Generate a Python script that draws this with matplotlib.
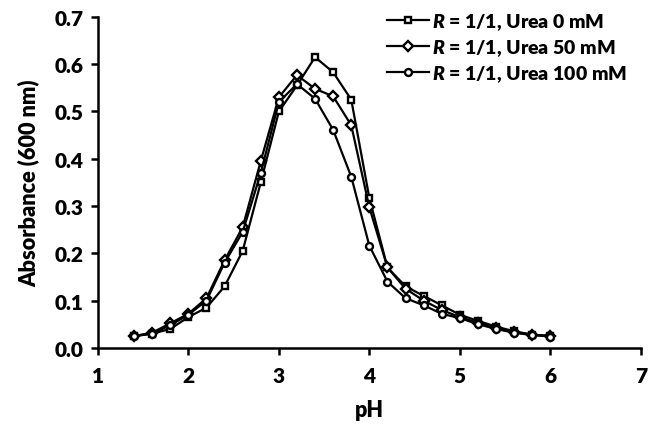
import matplotlib
matplotlib.use("Agg")
import matplotlib.pyplot as plt

plt.rcParams['font.family'] = ['Lato', 'DejaVu Sans']
plt.rcParams['font.weight'] = 'heavy'
plt.rcParams['mathtext.fontset'] = 'custom'
plt.rcParams['mathtext.it'] = 'Lato:italic:heavy'
plt.rcParams['mathtext.rm'] = 'Lato:heavy'

ph = [1.4, 1.6, 1.8, 2.0, 2.2, 2.4, 2.6, 2.8, 3.0, 3.2, 3.4, 3.6,
      3.8, 4.0, 4.2, 4.4, 4.6, 4.8, 5.0, 5.2, 5.4, 5.6, 5.8, 6.0]
urea0 = [0.025, 0.030, 0.040, 0.065, 0.085, 0.130, 0.205, 0.350, 0.500, 0.555, 0.615, 0.583,
         0.525, 0.317, 0.170, 0.130, 0.110, 0.090, 0.070, 0.057, 0.045, 0.035, 0.028, 0.025]
urea50 = [0.025, 0.032, 0.052, 0.072, 0.105, 0.185, 0.255, 0.395, 0.530, 0.577, 0.548, 0.532,
          0.471, 0.297, 0.170, 0.125, 0.100, 0.080, 0.065, 0.053, 0.042, 0.033, 0.028, 0.025]
urea100 = [0.025, 0.030, 0.048, 0.070, 0.100, 0.180, 0.245, 0.370, 0.520, 0.558, 0.527, 0.461,
           0.362, 0.216, 0.140, 0.105, 0.090, 0.072, 0.063, 0.050, 0.040, 0.032, 0.027, 0.024]
labels = [r"$\it{R}$ = 1/1, Urea 0 mM", r"$\it{R}$ = 1/1, Urea 50 mM", r"$\it{R}$ = 1/1, Urea 100 mM"]
markers = ['s', 'D', 'o']
msizes = [5, 5, 5]

fig = plt.figure(figsize=(6.48, 4.27), dpi=100)
ax = fig.add_axes([0.151, 0.183, 0.838, 0.775])

for ys, lab, m, ms in zip([urea0, urea50, urea100], labels, markers, msizes):
    ax.plot(ph, ys, color='black', lw=1.6, marker=m, markersize=ms,
            markerfacecolor='white', markeredgecolor='black', markeredgewidth=1.7, label=lab)

ax.set_xlim(1, 7)
ax.set_ylim(0, 0.7)
ax.set_xticks([1, 2, 3, 4, 5, 6, 7])
ax.set_yticks([0, 0.1, 0.2, 0.3, 0.4, 0.5, 0.6, 0.7])
ax.set_yticklabels([f"{v:.1f}" for v in [0, 0.1, 0.2, 0.3, 0.4, 0.5, 0.6, 0.7]])
for s in ['top', 'right']:
    ax.spines[s].set_visible(False)
for s in ['left', 'bottom']:
    ax.spines[s].set_linewidth(1.8)
ax.tick_params(axis='both', direction='out', length=5, width=1.8, labelsize=15, pad=5)
ax.tick_params(axis='x', pad=8)
for t in ax.get_xticklabels() + ax.get_yticklabels():
    t.set_fontweight('heavy')
ax.set_xlabel('pH', fontsize=15.5, fontweight='heavy', labelpad=10)
ax.set_ylabel('Absorbance (600 nm)', fontsize=15.7, fontweight='heavy', labelpad=11)

leg = ax.legend(loc='upper right', bbox_to_anchor=(1.0, 1.06), frameon=False,
                fontsize=14, handlelength=2.2, handletextpad=0.15, labelspacing=0.28,
                borderpad=0.2)

fig.savefig('out.png', dpi=100)
